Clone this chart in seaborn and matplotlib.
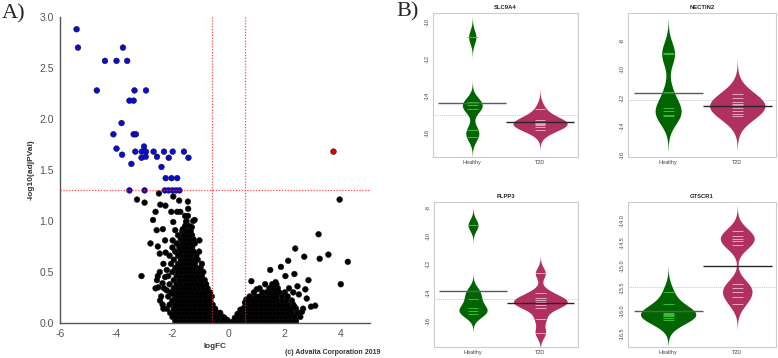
import numpy as np
import pandas as pd
import matplotlib
matplotlib.use("Agg")
import matplotlib.pyplot as plt
import seaborn as sns

# ------------------------------------------------------------------
# Panel A : volcano plot  (logFC, -log10(adjPVal))
# ------------------------------------------------------------------
blue_pts = [(-5.41, 2.88), (-5.36, 2.70), (-4.40, 2.57), (-3.99, 2.57), (-3.61, 2.57),
            (-3.76, 2.70), (-4.69, 2.28), (-3.35, 2.28), (-2.94, 2.28), (-3.53, 2.18),
            (-3.38, 2.18), (-3.81, 1.96), (-4.10, 1.85), (-3.38, 1.85), (-3.30, 1.85),
            (-3.99, 1.71), (-3.79, 1.65), (-3.46, 1.56), (-3.32, 1.68), (-3.09, 1.68),
            (-3.01, 1.73), (-2.94, 1.68), (-3.10, 1.62), (-2.95, 1.63), (-2.67, 1.68),
            (-2.55, 1.63), (-2.30, 1.68), (-2.39, 1.53), (-2.13, 1.62), (-1.99, 1.68),
            (-1.59, 1.68), (-1.43, 1.62), (-2.24, 1.42), (-2.03, 1.42), (-1.83, 1.42),
            (-3.53, 1.30), (-2.99, 1.30), (-2.27, 1.30), (-2.14, 1.30), (-2.00, 1.30),
            (-1.87, 1.30), (-1.75, 1.30)]
red_pts = [(3.73, 1.68)]

left_sparse = [(-3.26, 1.21), (-2.99, 1.18), (-3.10, 0.46), (-2.78, 0.78), (-2.69, 1.01),
               (-2.52, 0.75), (-2.52, 0.46), (-2.60, 1.09), (-2.48, 1.27), (-2.43, 1.16),
               (-2.25, 1.15), (-2.24, 0.69), (-2.45, 0.68), (-1.97, 1.24), (-2.04, 1.09),
               (-1.72, 1.09), (-1.76, 1.20), (-1.45, 1.19), (-1.44, 1.12), (-1.21, 1.01),
               (-1.51, 0.99), (-1.31, 0.94), (-1.63, 0.92), (-1.90, 0.91), (-1.99, 0.81),
               (-1.04, 0.81), (-2.56, 0.91), (-2.34, 0.92), (-2.26, 0.81), (-2.50, 0.35),
               (-2.44, 0.22), (-2.32, 0.14), (-2.08, 0.10), (-2.20, 0.32), (-2.02, 0.29),
               (-2.32, 0.58), (-2.20, 0.52), (-2.26, 0.45), (-2.35, 0.39), (-1.83, 1.09),
               (-1.97, 0.99), (-1.26, 1.00)]

right_sparse = [(3.95, 1.21), (3.20, 0.87), (2.37, 0.73), (2.69, 0.65), (3.24, 0.63),
                (3.55, 0.67), (4.24, 0.60), (3.99, 0.38), (2.12, 0.61), (1.86, 0.55),
                (1.48, 0.52), (2.02, 0.46), (2.34, 0.48), (2.84, 0.42), (2.73, 0.33),
                (2.93, 0.16), (3.08, 0.17), (2.61, 0.11), (2.34, 0.16), (0.81, 0.41),
                (1.00, 0.33), (2.78, 0.24), (2.50, 0.28), (2.45, 0.36), (1.67, 0.40)]

left_cloud = [
    (-1.90, 0.02), (-1.75, 0.02), (-1.60, 0.02), (-1.45, 0.02), (-1.30, 0.02), (-1.15, 0.02),
    (-1.00, 0.02), (-0.85, 0.02), (-0.70, 0.02), (-0.55, 0.02), (-0.40, 0.02), (-0.25, 0.02),
    (-0.10, 0.02),
    (-2.00, 0.06), (-1.85, 0.06), (-1.70, 0.06), (-1.55, 0.06), (-1.40, 0.06), (-1.25, 0.06),
    (-1.10, 0.06), (-0.95, 0.06), (-0.80, 0.06), (-0.65, 0.06), (-0.50, 0.06), (-0.35, 0.06),
    (-0.20, 0.06),
    (-1.90, 0.10), (-1.75, 0.10), (-1.60, 0.10), (-1.45, 0.10), (-1.30, 0.10), (-1.15, 0.10),
    (-1.00, 0.10), (-0.85, 0.10), (-0.70, 0.10), (-0.55, 0.10), (-0.42, 0.10), (-0.30, 0.10),
    (-2.20, 0.14), (-1.95, 0.14), (-1.80, 0.14), (-1.65, 0.14), (-1.50, 0.14), (-1.35, 0.14),
    (-1.20, 0.14), (-1.05, 0.14), (-0.90, 0.14), (-0.75, 0.14), (-0.60, 0.14), (-0.48, 0.14),
    (-2.35, 0.18), (-2.10, 0.18), (-1.90, 0.18), (-1.75, 0.18), (-1.60, 0.18), (-1.45, 0.18),
    (-1.30, 0.18), (-1.15, 0.18), (-1.00, 0.18), (-0.85, 0.18), (-0.70, 0.18), (-0.57, 0.18),
    (-2.00, 0.22), (-1.85, 0.22), (-1.70, 0.22), (-1.55, 0.22), (-1.40, 0.22), (-1.25, 0.22),
    (-1.10, 0.22), (-0.95, 0.22), (-0.80, 0.22), (-0.65, 0.22),
    (-2.40, 0.26), (-2.15, 0.26), (-1.90, 0.26), (-1.75, 0.26), (-1.60, 0.26), (-1.45, 0.26),
    (-1.30, 0.26), (-1.15, 0.26), (-1.00, 0.26), (-0.85, 0.26), (-0.70, 0.26), (-0.60, 0.26),
    (-2.05, 0.30), (-1.85, 0.30), (-1.70, 0.30), (-1.55, 0.30), (-1.40, 0.30), (-1.25, 0.30),
    (-1.10, 0.30), (-0.95, 0.30), (-0.80, 0.30), (-0.66, 0.30),
    (-2.60, 0.34), (-2.30, 0.34), (-1.95, 0.34), (-1.80, 0.34), (-1.65, 0.34), (-1.50, 0.34),
    (-1.35, 0.34), (-1.20, 0.34), (-1.05, 0.34), (-0.90, 0.34), (-0.75, 0.34),
    (-2.10, 0.38), (-1.85, 0.38), (-1.70, 0.38), (-1.55, 0.38), (-1.40, 0.38), (-1.25, 0.38),
    (-1.10, 0.38), (-0.95, 0.38), (-0.80, 0.38),
    (-2.55, 0.42), (-1.95, 0.42), (-1.75, 0.42), (-1.60, 0.42), (-1.45, 0.42), (-1.30, 0.42),
    (-1.15, 0.42), (-1.00, 0.42), (-0.85, 0.42),
    (-2.15, 0.46), (-1.85, 0.46), (-1.70, 0.46), (-1.55, 0.46), (-1.40, 0.46), (-1.25, 0.46),
    (-1.10, 0.46), (-0.95, 0.46),
    (-2.45, 0.50), (-2.00, 0.50), (-1.80, 0.50), (-1.65, 0.50), (-1.50, 0.50), (-1.35, 0.50),
    (-1.20, 0.50), (-1.05, 0.50), (-0.90, 0.50),
    (-1.90, 0.54), (-1.75, 0.54), (-1.60, 0.54), (-1.45, 0.54), (-1.30, 0.54), (-1.15, 0.54),
    (-1.00, 0.54),
    (-2.05, 0.58), (-1.80, 0.58), (-1.65, 0.58), (-1.50, 0.58), (-1.35, 0.58), (-1.20, 0.58),
    (-0.95, 0.58),
    (-1.95, 0.62), (-1.70, 0.62), (-1.55, 0.62), (-1.40, 0.62), (-1.25, 0.62), (-1.10, 0.62),
    (-2.10, 0.66), (-1.80, 0.66), (-1.65, 0.66), (-1.50, 0.66), (-1.35, 0.66), (-1.15, 0.66),
    (-1.90, 0.70), (-1.70, 0.70), (-1.55, 0.70), (-1.40, 0.70), (-1.25, 0.70), (-1.05, 0.70),
    (-2.00, 0.74), (-1.75, 0.74), (-1.60, 0.74), (-1.45, 0.74), (-1.30, 0.74),
    (-1.85, 0.78), (-1.65, 0.78), (-1.50, 0.78), (-1.35, 0.78), (-1.20, 0.78),
    (-1.70, 0.82), (-1.55, 0.82), (-1.40, 0.82), (-1.25, 0.82),
    (-1.80, 0.86), (-1.60, 0.86), (-1.45, 0.86), (-1.30, 0.86),
    (-1.65, 0.90), (-1.50, 0.90), (-1.35, 0.90),
    (-1.55, 0.95), (-1.40, 0.95),
    (-1.50, 1.00),
    (-1.55, 1.05), (-1.45, 1.05),
]

center_cloud = [(0.00, 0.01), (0.12, 0.01), (0.25, 0.02), (0.38, 0.02), (0.50, 0.02),
                (0.62, 0.02), (0.22, 0.05), (0.35, 0.06), (0.48, 0.06), (0.60, 0.07),
                (0.32, 0.09), (0.45, 0.10), (0.58, 0.11), (0.42, 0.13), (0.55, 0.15),
                (0.62, 0.17), (0.58, 0.20), (0.63, 0.23), (-0.05, 0.03), (-0.15, 0.05)]

right_cloud = [
    (0.75, 0.02), (0.90, 0.02), (1.05, 0.02), (1.20, 0.02), (1.35, 0.02), (1.50, 0.02),
    (1.65, 0.02), (1.80, 0.02), (1.95, 0.02), (2.10, 0.02), (2.25, 0.02), (2.40, 0.02),
    (0.70, 0.06), (0.85, 0.06), (1.00, 0.06), (1.15, 0.06), (1.30, 0.06), (1.45, 0.06),
    (1.60, 0.06), (1.75, 0.06), (1.90, 0.06), (2.05, 0.06), (2.20, 0.06), (2.35, 0.06),
    (2.55, 0.06),
    (0.75, 0.10), (0.90, 0.10), (1.05, 0.10), (1.20, 0.10), (1.35, 0.10), (1.50, 0.10),
    (1.65, 0.10), (1.80, 0.10), (1.95, 0.10), (2.10, 0.10), (2.25, 0.10), (2.45, 0.10),
    (0.70, 0.14), (0.85, 0.14), (1.00, 0.14), (1.15, 0.14), (1.30, 0.14), (1.45, 0.14),
    (1.60, 0.14), (1.75, 0.14), (1.90, 0.14), (2.05, 0.14), (2.20, 0.14), (2.40, 0.14),
    (2.65, 0.14),
    (0.75, 0.18), (0.90, 0.18), (1.05, 0.18), (1.20, 0.18), (1.35, 0.18), (1.50, 0.18),
    (1.65, 0.18), (1.80, 0.18), (1.95, 0.18), (2.10, 0.18), (2.30, 0.18),
    (0.68, 0.22), (0.85, 0.22), (1.00, 0.22), (1.15, 0.22), (1.30, 0.22), (1.45, 0.22),
    (1.60, 0.22), (1.75, 0.22), (1.90, 0.22), (2.05, 0.22), (2.25, 0.22),
    (0.75, 0.26), (0.95, 0.26), (1.10, 0.26), (1.25, 0.26), (1.40, 0.26), (1.55, 0.26),
    (1.70, 0.26), (1.90, 0.26), (2.10, 0.26),
    (0.90, 0.30), (1.20, 0.30), (1.35, 0.30), (1.50, 0.30), (1.65, 0.30), (1.80, 0.30),
    (2.00, 0.30), (2.30, 0.30),
    (1.10, 0.34), (1.45, 0.34), (1.60, 0.34), (1.75, 0.34), (2.15, 0.34),
    (1.30, 0.38), (1.55, 0.38), (1.70, 0.38),
]

logfc_cut = 0.6
padj_cut = 1.3
volcano_xticks = [-6, -4, -2, 0, 2, 4]
volcano_yticks = [0.0, 0.5, 1.0, 1.5, 2.0, 2.5, 3.0]

# ------------------------------------------------------------------
# Panel B : bean plots (log expression) per gene
# ------------------------------------------------------------------
genes = ["SLC9A4", "NECTIN2", "PLPP3", "GTSCR1"]
groups = ["Healthy", "T2D"]

slc9a4_healthy = [-10.8, -14.3, -14.5, -14.7, -15.85, -16.2]
slc9a4_t2d = [-14.7, -15.3, -15.4, -15.45, -15.45, -15.5, -15.55, -15.68, -15.84]
nectin2_healthy = [-8.85, -8.95, -11.6, -12.7, -12.9, -13.2, -13.3]
nectin2_t2d = [-11.7, -12.0, -12.3, -12.45, -12.5, -12.6, -12.7, -12.9, -13.1, -13.3]
plpp3_healthy = [-9.23, -13.9, -14.48, -15.07, -15.3, -15.54]
plpp3_t2d = [-12.63, -14.0, -14.36, -14.5, -14.65, -14.76, -14.85, -15.07, -15.85, -16.84]
gtscr1_healthy = [-15.58, -15.85, -16.0, -16.05, -16.08, -16.1, -16.12, -16.15, -16.2]
gtscr1_t2d = [-14.25, -14.35, -14.42, -14.46, -14.55, -15.42, -15.49, -15.58, -15.7, -15.84]

slc9a4_ticks = [-10, -12, -14, -16]
nectin2_ticks = [-8, -10, -12, -14, -16]
plpp3_ticks = [-8, -10, -12, -14, -16]
gtscr1_ticks = [-14.0, -14.5, -15.0, -15.5, -16.0, -16.5]

# ------------------------------------------------------------------
sns.set_style("white")
plt.rcParams["font.family"] = ["Liberation Sans", "DejaVu Sans"]

W, H = 778, 358
fig = plt.figure(figsize=(W / 100, H / 100), dpi=100)


def rect(left, top, right, bottom):
    return [left / W, 1 - bottom / H, (right - left) / W, (bottom - top) / H]


# ---------------- Volcano ----------------
rows = []
for name, pts in [("ns", left_cloud), ("ns", center_cloud), ("ns", right_cloud),
                  ("ns", left_sparse), ("ns", right_sparse), ("down", blue_pts), ("up", red_pts)]:
    for x, y in pts:
        rows.append((x, y, name))
vdf = pd.DataFrame(rows, columns=["logFC", "nlp", "status"])

axA = fig.add_axes(rect(60, 17, 370, 323))
sns.scatterplot(data=vdf, x="logFC", y="nlp", hue="status",
                palette={"ns": "#000000", "down": "#0a0ad8", "up": "#e00000"},
                s=17, edgecolor="#111111", linewidth=0.35, legend=False, ax=axA, zorder=2)
axA.set_xlim(-6, 5.03)
axA.set_ylim(0, 3.0)
red = "#ff2a2a"
for xv in (-logfc_cut, logfc_cut):
    axA.axvline(xv, color=red, lw=0.9, ls=(0, (1, 1.3)), alpha=0.85, zorder=3)
axA.axhline(padj_cut, color=red, lw=0.9, ls=(0, (1, 1.3)), alpha=0.85, zorder=3)
axA.set_xticks(volcano_xticks)
axA.set_xticklabels([str(v) for v in volcano_xticks])
axA.set_yticks(volcano_yticks)
axA.set_yticklabels([f"{v:.1f}" for v in volcano_yticks])
axA.tick_params(axis="both", length=3, width=0.8, color="#555555", labelcolor="#555555",
                labelsize=7.5, pad=1.5)
for s in ("top", "right"):
    axA.spines[s].set_visible(False)
for s in ("left", "bottom"):
    axA.spines[s].set_color("#555555")
    axA.spines[s].set_linewidth(1.0)
axA.set_xlabel("")
axA.set_ylabel("")
fig.text(215 / W, 1 - 346 / H, "logFC", ha="center", va="center", fontsize=5.8,
         fontweight="bold", color="#333333")
fig.text(31 / W, 1 - 170 / H, "-log10(adjPVal)", ha="center", va="center", rotation=90,
         fontsize=6, fontweight="bold", color="#333333")
fig.text(380 / W, 1 - 353 / H, "(c) Advaita Corporation 2019", ha="right", va="center",
         fontsize=5, fontweight="bold", color="#333333")
fig.text(2 / W, 1 - 14 / H, "A)", ha="left", va="center", fontsize=16,
         family=["Liberation Serif", "DejaVu Serif"])
fig.text(396 / W, 1 - 12 / H, "B)", ha="left", va="center", fontsize=16,
         family=["Liberation Serif", "DejaVu Serif"])

# ---------------- Bean plots ----------------
bean_fill = {"Healthy": "#006400", "T2D": "#b03060"}
bean_line = {"Healthy": "#3fcf3f", "T2D": "#f2b8cc"}
mean_col = {"Healthy": "#5a5a5a", "T2D": "#262626"}
max_bean_width = 0.8

panels = [
    ("SLC9A4", slc9a4_healthy, slc9a4_t2d, 0.36, slc9a4_ticks, (-17.3, -9.5), "{:.0f}", (433, 13, 578, 157)),
    ("NECTIN2", nectin2_healthy, nectin2_t2d, 0.8, nectin2_ticks, (-16.15, -6.05), "{:.0f}", (628, 13, 776, 157)),
    ("PLPP3", plpp3_healthy, plpp3_t2d, 0.4, plpp3_ticks, (-17.85, -7.6), "{:.0f}", (434, 202, 578, 347)),
    ("GTSCR1", gtscr1_healthy, gtscr1_t2d, 0.19, gtscr1_ticks, (-16.8, -13.6), "{:.1f}", (628, 202, 776, 347)),
]


def kernel_peak(vals, bw):
    """Peak of the (unnormalised) sum of gaussian kernels: beans share one scale."""
    v = np.asarray(vals, dtype=float)
    grid = np.linspace(v.min() - 3 * bw, v.max() + 3 * bw, 1200)
    return np.exp(-0.5 * ((grid[:, None] - v[None, :]) / bw) ** 2).sum(axis=1).max()


for gene, hv, tv, bw, ticks, ylim, fmt, box in panels:
    ax = fig.add_axes(rect(*box))
    group_vals = {"Healthy": list(hv), "T2D": list(tv)}
    peaks = {g: kernel_peak(v, bw) for g, v in group_vals.items()}
    top_peak = max(peaks.values())
    bwfun = (lambda k, b=bw: b / np.std(np.asarray(k.dataset).ravel(), ddof=1))
    for g in groups:
        sub = pd.DataFrame({"group": [g] * len(group_vals[g]), "value": group_vals[g]})
        sns.violinplot(data=sub, x="group", y="value", order=groups, color=bean_fill[g],
                       inner=None, density_norm="area",
                       width=max_bean_width * peaks[g] / top_peak, cut=3, bw_method=bwfun,
                       gridsize=400, linewidth=0, saturation=1, ax=ax, zorder=2)
    all_vals = group_vals["Healthy"] + group_vals["T2D"]
    ax.axhline(np.mean(all_vals), color="#c8c8c8", lw=0.6, ls=(0, (1.5, 1)), zorder=1)
    for i, g in enumerate(groups):
        vals = np.asarray(group_vals[g])
        ax.hlines(vals, i - 0.08, i + 0.08, colors=bean_line[g], lw=0.6, zorder=3)
        ax.hlines(vals.mean(), i - 0.5, i + 0.5, colors=mean_col[g], lw=1.0, zorder=4)
    ax.set_xlim(-0.58, 1.56)
    ax.set_ylim(*ylim)
    ax.set_yticks(ticks)
    ax.set_yticklabels([fmt.format(t) for t in ticks], rotation=90, va="center")
    ax.set_xticks([0, 1])
    ax.set_xticklabels(groups)
    ax.tick_params(axis="y", length=1.5, width=0.5, color="#999999", labelcolor="#444444",
                   labelsize=4, pad=1)
    ax.tick_params(axis="x", length=0, labelcolor="#444444", labelsize=4, pad=2.5)
    for s in ax.spines.values():
        s.set_color("#cccccc")
        s.set_linewidth(0.8)
        s.set_visible(True)
    ax.set_xlabel("")
    ax.set_ylabel("")
    ax.set_title(gene, fontsize=4.2, fontweight="bold", pad=3, color="#222222")

fig.savefig("out.png", dpi=100)
